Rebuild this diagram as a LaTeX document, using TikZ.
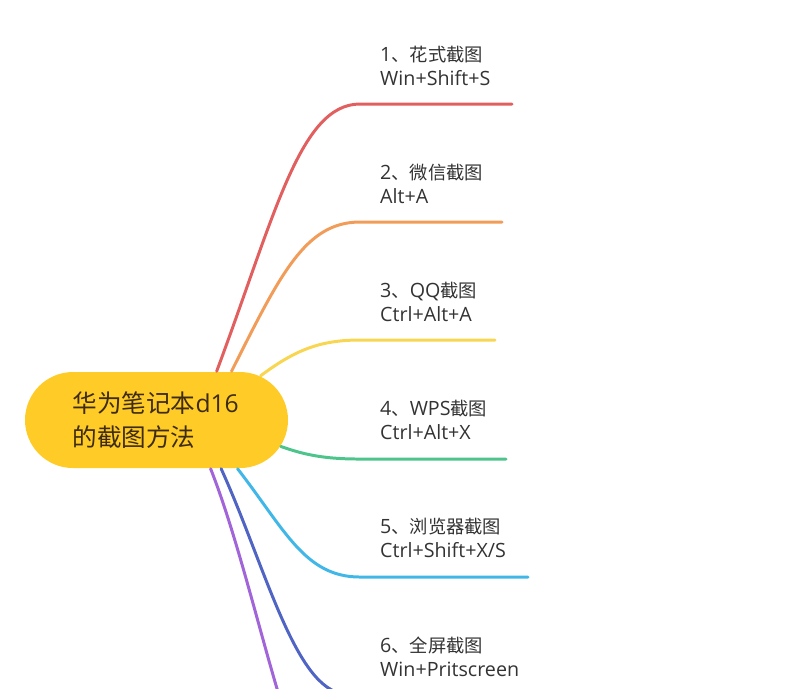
\documentclass[tikz,border=0pt]{standalone}
\usepackage{fontspec}
\usepackage{xcolor}
\setmainfont{Open Sans}
\newfontfamily\cjk[Scale=0.93]{Noto Sans CJK SC}
\newfontfamily\cjkroot{Noto Sans CJK SC}
\usetikzlibrary{shapes.misc,calc}

\definecolor{rootyellow}{HTML}{FFCB27}
\definecolor{rootink}{HTML}{3D2C12}
\definecolor{labelink}{HTML}{333333}
\definecolor{branchred}{HTML}{E25F5F}
\definecolor{branchorange}{HTML}{F19C58}
\definecolor{branchyellow}{HTML}{F8D651}
\definecolor{branchgreen}{HTML}{4DC48B}
\definecolor{branchblue}{HTML}{41B7E8}
\definecolor{branchnavy}{HTML}{5064C4}
\definecolor{branchpurple}{HTML}{A264D9}

\tikzset{
    rootnode/.style={rounded rectangle, fill=rootyellow, text=rootink, inner sep=0pt,
        minimum width=26.3mm, minimum height=9.6mm, font=\fontsize{7}{9.5}\selectfont,
        text width=16.8mm, align=left},
    branchlabel/.style={anchor=west, inner sep=0pt, text=labelink, align=left,
        font=\fontsize{5.6}{6.85}\selectfont},
    branch/.style={line width=0.85pt, line cap=round}
}

\begin{document}
\begin{tikzpicture}[x=0.1mm, y=-0.1mm]
        \useasboundingbox (0,0) rectangle (800,688);
        \clip (0,0) rectangle (800,688);

        \node[rootnode] (root) at (156.5,420) {{\cjkroot 华为笔记本}d16\\{\cjkroot 的截图方法}};

        % Labels
        \node[branchlabel] (label1) at (379.5,66) {1{\cjk 、花式截图}\\Win+Shift+S};
        \node[branchlabel] (label2) at (379.5,184) {2{\cjk 、微信截图}\\Alt+A};
        \node[branchlabel] (label3) at (379.5,302) {3{\cjk 、}QQ{\cjk 截图}\\Ctrl+Alt+A};
        \node[branchlabel] (label4) at (379.5,420) {4{\cjk 、}WPS{\cjk 截图}\\Ctrl+Alt+X};
        \node[branchlabel] (label5) at (379.5,538) {5{\cjk 、浏览器截图}\\Ctrl+Shift+X/S};
        \node[branchlabel] (label6) at (379.5,657) {6{\cjk 、全屏截图}\\Win+Pritscreen};

        % Branch ends
        \coordinate (bend1) at (360,104);
        \coordinate (end1) at (512,104);
        \coordinate (bend2) at (360,222);
        \coordinate (end2) at (502,222);
        \coordinate (bend3) at (360,340);
        \coordinate (end3) at (495,340);
        \coordinate (bend4) at (360,459);
        \coordinate (end4) at (506,459);
        \coordinate (bend5) at (360,577);
        \coordinate (end5) at (528,577);
        \coordinate (end6) at (345,694);
        \coordinate (end7) at (278,692);

        % Branches
        \draw[branch, branchred] (root.39) .. controls (275,215) and (300,104) .. (bend1) -- (end1);
        \draw[branch, branchorange] (root.33) .. controls (280,275) and (305,222) .. (bend2) -- (end2);
        \draw[branch, branchyellow] (root.23) .. controls (295,350) and (320,340) .. (bend3) -- (end3);
        \draw[branch, branchgreen] (root.-12) .. controls (305,455) and (325,459) .. (bend4) -- (end4);
        \draw[branch, branchblue] (root.-31) .. controls (285,530) and (305,577) .. (bend5) -- (end5);
        \draw[branch, branchnavy] (root.-37) .. controls (265,565) and (295,690) .. (end6);
        \draw[branch, branchpurple] (root.-42) .. controls (235,530) and (258,625) .. (end7);
\end{tikzpicture}
\end{document}
